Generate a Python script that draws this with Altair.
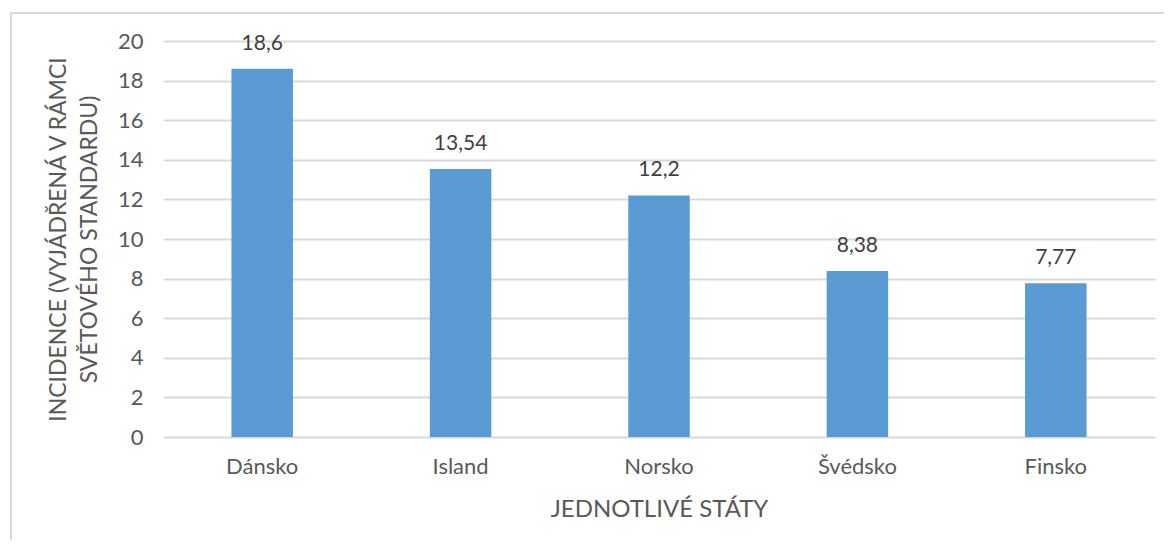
import altair as alt
import pandas as pd

states = ["Dánsko", "Island", "Norsko", "Švédsko", "Finsko"]
values = [18.6, 13.54, 12.2, 8.38, 7.77]
labels = ["18,6", "13,54", "12,2", "8,38", "7,77"]

df = pd.DataFrame({"stat": states, "hodnota": values, "popisek": labels})

FONT = "Lato"

x_enc = alt.X(
    "stat:N",
    sort=states,
    scale=alt.Scale(paddingInner=0.69, paddingOuter=0.345),
    axis=alt.Axis(
        title="JEDNOTLIVÉ STÁTY",
        labelAngle=0,
        labelFontSize=22,
        labelColor="#595959",
        labelPadding=19,
        ticks=False,
        domain=False,
        titleFontSize=24,
        titleFontWeight="normal",
        titleColor="#595959",
        titlePadding=20,
        labelFont=FONT,
        titleFont=FONT,
    ),
)

y_enc = alt.Y(
    "hodnota:Q",
    scale=alt.Scale(domain=[0, 20]),
    axis=alt.Axis(
        title=["INCIDENCE (VYJÁDŘENÁ V RÁMCI", "SVĚTOVÉHO STANDARDU)"],
        values=list(range(0, 21, 2)),
        labelOverlap=False,
        labelFontSize=22,
        labelColor="#595959",
        labelPadding=20,
        ticks=False,
        domain=False,
        gridColor="#d9d9d9",
        gridWidth=2,
        titleFontSize=23,
        titleFontWeight="normal",
        titleColor="#595959",
        titlePadding=16,
        titleLineHeight=31,
        labelFont=FONT,
        titleFont=FONT,
    ),
)

bars = alt.Chart(df).mark_bar(color="#5B9BD5").encode(x=x_enc, y=y_enc)

text = alt.Chart(df).mark_text(
    dy=-25, fontSize=21, color="#404040", font=FONT
).encode(x=x_enc, y=y_enc, text="popisek:N")

border = alt.Chart(df).mark_rect(
    fill=None, stroke="#d9d9d9", strokeWidth=2
).encode(
    x=alt.value(-152), x2=alt.value(1040), y=alt.value(-28), y2=alt.value(540)
)

chart = (
    alt.layer(border, bars, text)
    .properties(
        width=992,
        height=396,
        autosize=alt.AutoSizeParams(type="none"),
        padding={"left": 155, "top": 33, "right": 9, "bottom": 103},
    )
    .configure_view(stroke=None)
)

chart.save("out.html", embed_options={"renderer": "svg", "actions": False})
